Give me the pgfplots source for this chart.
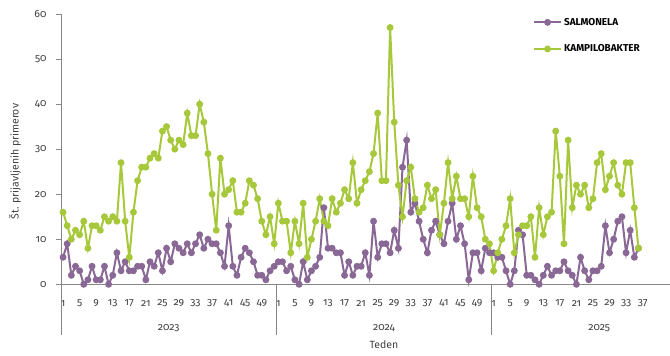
\documentclass[border=0pt]{standalone}
\usepackage{pgfplots}
\pgfplotsset{compat=1.18}
\usepackage{pgfplotstable}
\usepackage{fontspec}
\setmainfont[Numbers=OldStyle]{Fira Sans}
\definecolor{salm}{RGB}{138,104,150}
\definecolor{kamp}{RGB}{166,200,58}
\definecolor{axgray}{RGB}{134,134,134}
\definecolor{txt}{RGB}{64,64,64}

% s = SALMONELA, k = KAMPILOBAKTER; rows: 2023 w1-52, 2024 w1-52, 2025 w1-36
\pgfplotstableread{
s k
6 16
9 13
2 10
4 12
3 11
0 14
1 8
4 13
1 13
1 12
4 15
0 14
2 15
7 14
3 27
5 14
3 6
3 16
4 23
4 26
1 26
5 28
4 29
7 28
3 34
8 35
5 32
9 30
8 32
7 31
9 38
7 33
9 33
11 40
8 36
10 29
9 20
9 12
7 28
4 20
13 21
4 23
2 16
6 16
8 18
7 23
5 22
2 19
2 14
1 11
3 15
4 9
5 18
5 14
3 14
4 7
1 14
0 9
5 18
1 6
3 10
4 14
6 19
17 14
8 13
8 19
7 16
7 18
2 21
5 19
2 27
4 18
4 21
7 23
2 25
14 29
6 38
9 23
9 23
7 57
12 36
8 22
26 15
32 23
16 26
18 19
14 16
10 17
7 22
12 19
14 21
11 11
9 18
14 27
18 19
10 24
13 19
9 19
1 15
7 24
7 17
3 15
8 10
7 9
7 3
6 7
6 10
3 13
0 19
3 7
12 11
11 13
2 13
2 15
1 6
0 17
2 11
4 15
2 16
3 34
3 24
5 9
3 32
2 17
0 22
6 20
3 22
1 17
3 19
3 27
4 29
13 21
7 24
10 27
14 22
15 20
7 27
12 27
6 17
8 8
}\data

\begin{document}
\begin{tikzpicture}
\begin{axis}[
  at={(0pt,0pt)}, anchor=south west,
  scale only axis, width=645.8pt, height=270.3pt,
  xmin=-0.5, xmax=155.5, ymin=0, ymax=60,
  clip=false,
  axis lines*=left,
  axis line style={draw=axgray, line width=0.75pt},
  ytick={0,10,...,60},
  xtick={0,4,...,140},
  xticklabels={1,5,9,13,17,21,25,29,33,37,41,45,49,1,5,9,13,17,21,25,29,33,37,41,45,49,1,5,9,13,17,21,25,29,33,37},
  /pgf/number format/assume math mode=true,
  tick align=outside,
  major tick length=4.5pt,
  xtick style={draw=none},
  ytick style={draw=axgray, line width=0.75pt},
  tick label style={font=\fontsize{10.5}{12}\selectfont, text=txt},
  xticklabel style={anchor=center, inner sep=0pt, yshift=-14.4pt},
  yticklabel style={anchor=east, inner sep=0pt, xshift=-9.8pt},
  ylabel={Št. prijavljenih primerov},
  ylabel style={at={(axis description cs:-0.0712,0.4543)}, anchor=center, font=\fontsize{10.5}{12}\selectfont, text=txt},
  xlabel={Teden},
  xlabel style={at={(axis description cs:0.5,-0.2246)}, anchor=center, font=\fontsize{10.5}{12}\selectfont, text=txt},
  legend cell align=left,
  legend style={draw=none, fill=none, at={(axis description cs:0.731,0.985)}, anchor=north west,
    inner sep=0pt, outer sep=0pt, row sep=18pt, column sep=2pt,
    font=\fontsize{10}{12}\selectfont\bfseries,
    nodes={inner sep=0pt, outer sep=0pt}},
  legend image code/.code={\draw[mark repeat=2,mark phase=2,#1] plot coordinates {(0pt,0pt) (13.5pt,0pt) (27pt,0pt)};},
]
\addplot[salm, line width=2pt, mark=*, mark size=2.4pt, mark options={solid}] table[x expr=\coordindex, y=s] {\data};
\addlegendentry{SALMONELA}
\addplot[kamp, line width=2pt, mark=*, mark size=2.4pt, mark options={solid}] table[x expr=\coordindex, y=k] {\data};
\addlegendentry{KAMPILOBAKTER}
\draw[axgray, line width=0.75pt] (axis cs:-0.5,0) -- ++(0pt,-50.7pt);
\draw[axgray, line width=0.75pt] (axis cs:51.5,0) -- ++(0pt,-50.7pt);
\draw[axgray, line width=0.75pt] (axis cs:103.5,0) -- ++(0pt,-50.7pt);
\node[text=txt, font=\fontsize{10.5}{12}\selectfont] at (axis cs:25.5,0) [yshift=-43.7pt] {2023};
\node[text=txt, font=\fontsize{10.5}{12}\selectfont] at (axis cs:77.5,0) [yshift=-43.7pt] {2024};
\node[text=txt, font=\fontsize{10.5}{12}\selectfont] at (axis cs:129.5,0) [yshift=-43.7pt] {2025};
\end{axis}
\pgfresetboundingbox
\useasboundingbox (-61pt,-71.7pt) rectangle (609pt,284.3pt);
\end{tikzpicture}
\end{document}
